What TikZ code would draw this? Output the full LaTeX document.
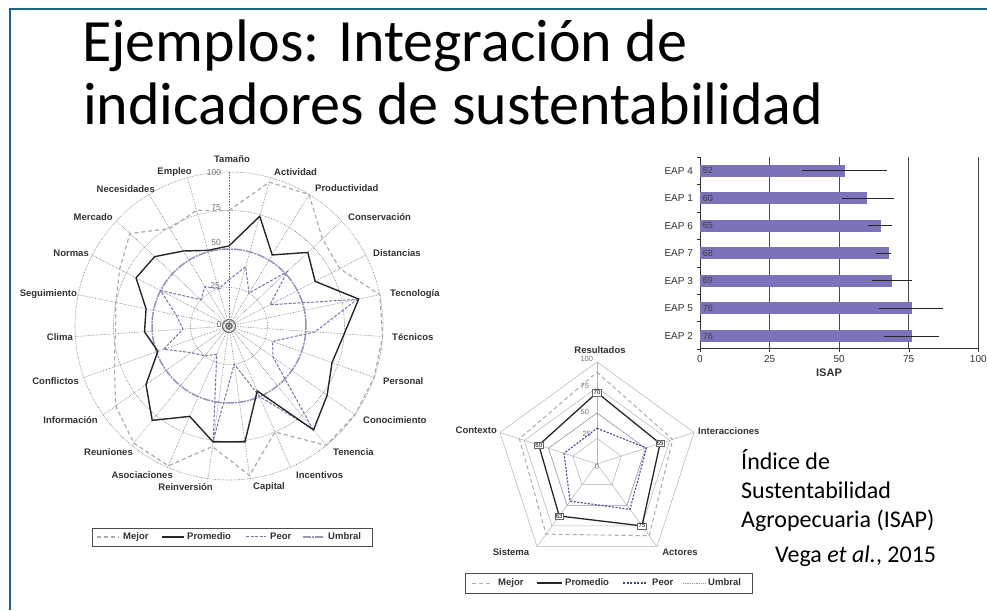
\documentclass[tikz,border=0pt]{standalone}
\usepackage{fontspec}
\setmainfont{Carlito}
\newfontfamily\chartfont{Liberation Sans}
\usetikzlibrary{positioning,calc}

\definecolor{framecol}{RGB}{28,100,130}
\definecolor{gridcol}{RGB}{115,115,120}
\definecolor{mejorcol}{RGB}{170,170,178}
\definecolor{peorcol}{RGB}{120,115,165}
\definecolor{umbralcol}{RGB}{150,146,182}
\definecolor{barcol}{RGB}{122,115,186}
\definecolor{labcol}{RGB}{50,50,50}
\definecolor{navycol}{RGB}{70,70,140}

\tikzstyle{titletext} = [anchor=base west, inner sep=0pt, font=\fontsize{60}{64}\selectfont]
\tikzstyle{notetext} = [anchor=base west, inner sep=0pt, font=\fontsize{24}{29}\selectfont]
\tikzstyle{axlab} = [inner sep=0pt, text=labcol, font=\chartfont\bfseries\fontsize{9.5}{10}\selectfont]
\tikzstyle{ticklab} = [inner sep=0pt, text=gridcol, font=\chartfont\fontsize{8.5}{9}\selectfont]
\tikzstyle{barlab} = [inner sep=0pt, text=labcol, font=\chartfont\fontsize{10}{11}\selectfont]
\tikzstyle{legtext} = [inner sep=0pt, anchor=west, text height=7pt, text depth=2pt, text=labcol, font=\chartfont\bfseries\fontsize{9.5}{10}\selectfont]
\tikzstyle{legbox} = [draw=black!70, line width=0.8pt, inner sep=0pt]
\tikzstyle{grid} = [draw=gridcol, densely dotted, line width=0.6pt]
\tikzstyle{mejor} = [draw=mejorcol, dash pattern=on 4pt off 3pt, line width=1.2pt]
\tikzstyle{promedio} = [draw=black!85, line width=1.4pt]
\tikzstyle{peor} = [draw=peorcol, dash pattern=on 3pt off 1.5pt, line width=1pt]
\tikzstyle{umbral} = [draw=umbralcol, dash pattern=on 8pt off 1pt on 2pt off 1pt, line width=1.5pt]
\tikzstyle{pgrid} = [draw=gray!60, line width=0.5pt]
\tikzstyle{ppeor} = [draw=navycol, dash pattern=on 2pt off 1.5pt, line width=1.1pt]
\tikzstyle{pumbral} = [draw=umbralcol, densely dotted, line width=0.8pt]
\tikzstyle{valbox} = [draw=black!60, fill=white, inner sep=1pt, line width=0.4pt, font=\chartfont\fontsize{6}{6}\selectfont]
\tikzstyle{ebar} = [draw=black!85, line width=0.8pt]

\begin{document}
\begin{tikzpicture}[x=1pt, y=1pt]
    \useasboundingbox (0,0) rectangle (987,610);
    % slide frame and title
    \draw[framecol, line width=1.8pt] (987,601) -- (10,601) -- (10,0);
    \node[titletext] (title1) at (82,548) {Ejemplos: Integración de};
    \node[titletext] (title2) at (83,485) {indicadores de sustentabilidad};

    % big radar: grid
    \begin{scope}[shift={(229pt,284pt)}]
        \foreach \r in {38.5,115.5,154} \draw[grid] (0,0) circle (\r);
        \foreach \i in {0,...,22} \draw[grid] (0,0) -- ({90-\i*360/23}:154);
        \draw[umbral] (0,0) circle (77);
        \draw[gridcol, line width=1.2pt] (0,0) circle (3) (0,0) circle (6.5);
        % data
        \foreach \v [count=\i from 0] in {75,97,100,83,81,100,100,100,100,100,75,98,79,99,98,90,79,74,75,80,88,74,78}
            \coordinate (mj\i) at ({90-\i*360/23}:{1.54*\v});
        \foreach \v [count=\i from 0] in {30,40,25,52,30,85,56,30,35,86,50,25,75,20,25,30,45,30,35,50,25,30,25}
            \coordinate (pr\i) at ({90-\i*360/23}:{1.54*\v});
        \foreach \v [count=\i from 0] in {52,74,54,70,63,86,75,71,78,87,46,76,76,64,79,66,49,55,55,68,66,57,51}
            \coordinate (pm\i) at ({90-\i*360/23}:{1.54*\v});
        \draw[mejor] (mj0) \foreach \i in {1,...,22} {-- (mj\i)} -- cycle;
        \draw[peor] (pr0) \foreach \i in {1,...,22} {-- (pr\i)} -- cycle;
        \draw[promedio] (pm0) \foreach \i in {1,...,22} {-- (pm\i)} -- cycle;
    \end{scope}
    % big radar: tick labels
    \node[ticklab] (t100) at (214,437) {100};
    \node[ticklab] (t75) at (216,402) {75};
    \node[ticklab] (t50) at (216,367) {50};
    \node[ticklab] (t25) at (215,324) {25};
    \node[ticklab] (t0) at (219,285) {0};
    % big radar: axis labels
    \node[axlab] (tamano) at (232,451) {Tamaño};
    \node[axlab, anchor=west] (actividad) at (274,438) {Actividad};
    \node[axlab, anchor=west] (productividad) at (315,422) {Productividad};
    \node[axlab, anchor=west] (conservacion) at (348,393) {Conservación};
    \node[axlab, anchor=west] (distancias) at (373,357) {Distancias};
    \node[axlab, anchor=west] (tecnologia) at (390,316) {Tecnología};
    \node[axlab, anchor=west] (tecnicos) at (392,273) {Técnicos};
    \node[axlab, anchor=west] (personal) at (383,229) {Personal};
    \node[axlab, anchor=west] (conocimiento) at (363,190) {Conocimiento};
    \node[axlab, anchor=west] (tenencia) at (333,158) {Tenencia};
    \node[axlab, anchor=west] (incentivos) at (296,135) {Incentivos};
    \node[axlab, anchor=west] (capital) at (253,123) {Capital};
    \node[axlab, anchor=east] (reinversion) at (213,123) {Reinversión};
    \node[axlab, anchor=east] (asociaciones) at (173,135) {Asociaciones};
    \node[axlab, anchor=east] (reuniones) at (133,158) {Reuniones};
    \node[axlab, anchor=east] (informacion) at (98,190) {Información};
    \node[axlab, anchor=east] (conflictos) at (79,229) {Conflictos};
    \node[axlab, anchor=east] (clima) at (73,273) {Clima};
    \node[axlab, anchor=east] (seguimiento) at (77,316) {Seguimiento};
    \node[axlab, anchor=east] (normas) at (89,357) {Normas};
    \node[axlab, anchor=east] (mercado) at (113,393) {Mercado};
    \node[axlab, anchor=east] (necesidades) at (155,421) {Necesidades};
    \node[axlab, anchor=east] (empleo) at (192,438) {Empleo};
    % big radar: legend
    \node[legbox, minimum width=280pt, minimum height=18pt] (leg1) at (232,73) {};
    \node[legtext] (leg1mejor) at (123,73) {Mejor};
    \node[legtext] (leg1prom) at (187,73) {Promedio};
    \node[legtext] (leg1peor) at (270,73) {Peor};
    \node[legtext] (leg1umb) at (328,73) {Umbral};
    \draw[mejor] ($(leg1mejor.west)+(-26,0)$) -- ($(leg1mejor.west)+(-4,0)$);
    \draw[promedio] ($(leg1prom.west)+(-25,0)$) -- ($(leg1prom.west)+(-3,0)$);
    \draw[peor] ($(leg1peor.west)+(-24,0)$) -- ($(leg1peor.west)+(-4,0)$);
    \draw[umbral] ($(leg1umb.west)+(-25,0)$) -- ($(leg1umb.west)+(-4,0)$);

    % bar chart
    \begin{scope}[shift={(700pt,261pt)}, x=2.783pt]
        \foreach \t in {25,50,75,100} \draw[black!70, line width=0.9pt] (\t,0) -- (\t,192);
        \draw[black!80, line width=1pt] (0,192) -- (0,0) -- (100,0);
        \foreach \t in {0,25,...,100} \draw[black!80] (\t,0) -- (\t,-3);
        \foreach \k in {0,...,7} \draw[black!80] (0,27.43*\k) -- (-1,27.43*\k);
        \foreach \t in {0,25,...,100} \node[barlab] (xt\t) at (\t,-10) {\t};
        \foreach \lab/\v/\lo/\hi [count=\i from 0] in {EAP 2/76/66.1/85.9, EAP 5/76/64.2/87.4, EAP 3/69/61.7/76.3, EAP 7/68/63.2/68.5, EAP 6/65/60.5/69.1, EAP 1/60/51.1/69.8, EAP 4/52/36.8/67.3}
        {
            \fill[barcol] (0,{13+27.55*\i-6}) rectangle (\v,{13+27.55*\i+6});
            \draw[ebar] (\lo,{13+27.55*\i}) -- (\hi,{13+27.55*\i});
            \node[barlab, anchor=east] (eap\i) at (-2.5,{13+27.55*\i}) {\lab};
            \node[barlab, anchor=west, font=\chartfont\fontsize{9}{10}\selectfont, text=black!75] (val\i) at (1,{13+27.55*\i}) {\v};
        }
    \end{scope}
    \node[text=labcol, font=\chartfont\bfseries\fontsize{11}{12}\selectfont] (isap) at (829,237) {ISAP};

    % pentagon radar
    \begin{scope}[shift={(597pt,146pt)}, x=1.02pt, y=1.02pt]
        \foreach \r in {25,50,75,100} \draw[pgrid] (90:\r) -- (18:\r) -- (-54:\r) -- (-126:\r) -- (162:\r) -- cycle;
        \foreach \a in {90,18,-54,-126,162} \draw[pgrid] (0,0) -- (\a:100);
        \draw[pumbral] (90:50) -- (18:50) -- (-54:50) -- (-126:50) -- (162:50) -- cycle;
        \draw[mejor, line width=1pt] (90:90) -- (18:78) -- (-54:87) -- (-126:85) -- (162:80) -- cycle;
        \draw[ppeor] (90:35) -- (18:51) -- (-54:55) -- (-126:45) -- (162:34) -- cycle;
        \draw[promedio, line width=1.3pt] (90:70) -- (18:65) -- (-54:75) -- (-126:63) -- (162:60) -- cycle;
        \node[valbox] (vres) at (90:70) {70};
        \node[valbox] (vint) at (18:65) {65};
        \node[valbox] (vact) at (-54:75) {75};
        \node[valbox] (vsis) at (-126:63) {63};
        \node[valbox] (vcon) at (162:60) {60};
        \node[ticklab, font=\chartfont\fontsize{7.5}{8}\selectfont] (pt100) at (-10,103) {100};
        \node[ticklab, font=\chartfont\fontsize{7.5}{8}\selectfont] (pt75) at (-12,77) {75};
        \node[ticklab, font=\chartfont\fontsize{7.5}{8}\selectfont] (pt50) at (-12,51) {50};
        \node[ticklab, font=\chartfont\fontsize{7.5}{8}\selectfont] (pt25) at (-10,29) {25};
        \node[ticklab, font=\chartfont\fontsize{7.5}{8}\selectfont] (pt0) at (0,-3) {0};
    \end{scope}
    \node[axlab] (resultados) at (600,260) {Resultados};
    \node[axlab, anchor=west] (interacciones) at (698,179) {Interacciones};
    \node[axlab, anchor=east] (contexto) at (497,180) {Contexto};
    \node[axlab] (sistema) at (511,58) {Sistema};
    \node[axlab] (actores) at (680,58) {Actores};
    % pentagon legend
    \node[legbox, minimum width=287pt, minimum height=20pt] (leg2) at (608.5,27) {};
    \node[legtext] (leg2mejor) at (498,27) {Mejor};
    \node[legtext] (leg2prom) at (565,27) {Promedio};
    \node[legtext] (leg2peor) at (652,27) {Peor};
    \node[legtext] (leg2umb) at (708,27) {Umbral};
    \draw[mejor, line width=1pt] ($(leg2mejor.west)+(-26,0)$) -- ($(leg2mejor.west)+(-6,0)$);
    \draw[promedio] ($(leg2prom.west)+(-28,0)$) -- ($(leg2prom.west)+(-3,0)$);
    \draw[ppeor] ($(leg2peor.west)+(-29,0)$) -- ($(leg2peor.west)+(-5,0)$);
    \draw[pumbral] ($(leg2umb.west)+(-25,0)$) -- ($(leg2umb.west)+(-3,0)$);

    % text block
    \node[notetext] (isap1) at (741,140) {Índice de};
    \node[notetext] (isap2) at (741,111) {Sustentabilidad};
    \node[notetext] (isap3) at (741,82) {Agropecuaria (ISAP)};
    \node[notetext] (vega) at (775,48) {Vega \textit{et al.}, 2015};
\end{tikzpicture}
\end{document}
